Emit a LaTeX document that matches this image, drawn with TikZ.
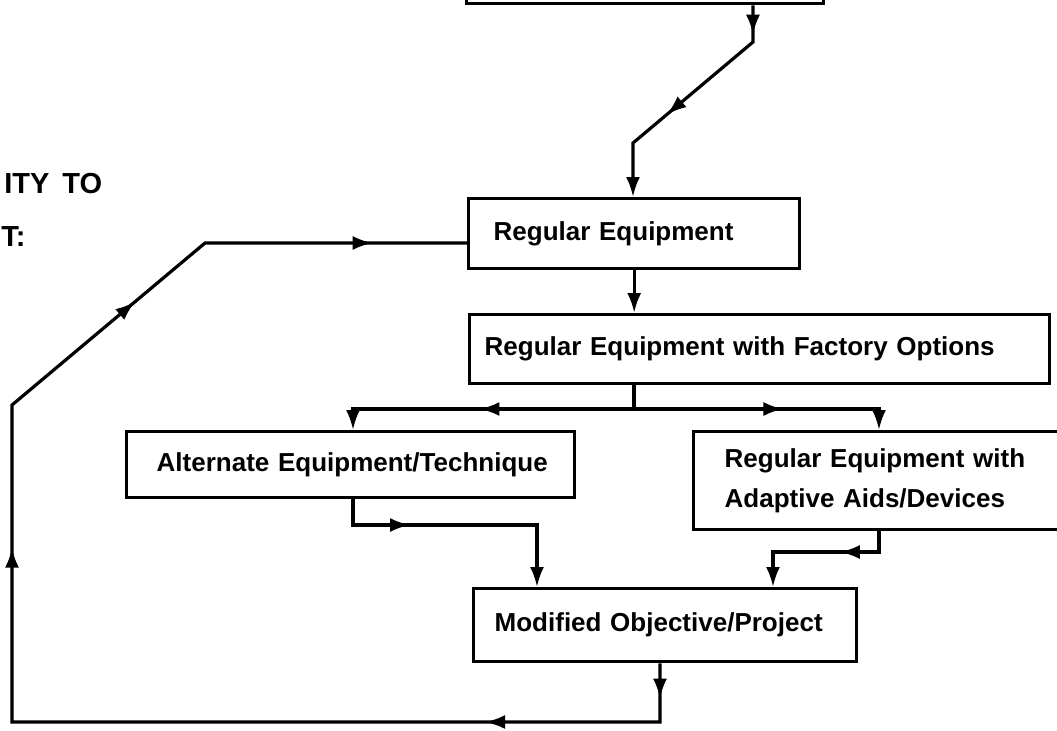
\documentclass[tikz,border=0pt]{standalone}
\usepackage{fontspec}
\setmainfont{Liberation Sans}
\newfontfamily\labelfont[WordSpace=1.6]{Liberation Sans}
\usetikzlibrary{arrows.meta,decorations.markings}

\begin{document}
\begin{tikzpicture}[x=0.5pt, y=-0.5pt,
  box/.style = {draw, line width=1.7pt, anchor=north west, align=left, inner ysep=0pt,
    font=\labelfont\bfseries\fontsize{13}{20}\selectfont},
  side/.style = {inner sep=0pt, font=\labelfont\bfseries\fontsize{14.5}{17}\selectfont},
  wire/.style = {line width=1.6pt},
  into/.style = {wire, -{Latex[length=10pt,width=7pt]}},
  tipat/.style = {line width=1.6pt, postaction={decorate},
    decoration={markings, mark=at position #1 with {\arrow{Latex[length=10pt,width=7pt]}}}}]
\useasboundingbox (0,0) rectangle (1057,730);

% boxes
\node[box, inner xsep=0pt, text width=178.5pt, minimum height=41pt] (source) at (465,-80) {};
\node[box, inner xsep=12.5pt, text width=140.5pt, minimum height=35pt] (regular) at (467,197) {Regular Equipment};
\node[box, inner xsep=7.5pt, text width=275pt, minimum height=34.5pt] (factory) at (468,313) {Regular Equipment with Factory Options};
\node[box, inner xsep=15pt, text width=194pt, minimum height=33pt] (alternate) at (125,430) {\mbox{Alternate Equipment/Technique}};
\node[box, inner xsep=15.5pt, text width=189pt, minimum height=49pt] (adaptive) at (692,430) {Regular Equipment with\\Adaptive Aids/Devices};
\node[box, inner xsep=10.5pt, text width=170.5pt, minimum height=36.5pt] (modified) at (472,587) {Modified Objective/Project};

% cut-off heading
\node[side, anchor=base west] (head1) at (4,193) {ITY TO};
\node[side, anchor=base west] (head2) at (1,246) {T:};

% source -> regular
\coordinate (d1) at (753,42);
\coordinate (d2) at (633,143);
\draw[into] (source.south -| d1) -- (d1) -- (d2) -- (d2 |- regular.north);
\path[tipat=0.8] (source.south -| d1) -- (d1);
\path[tipat=0.72] (d1) -- (d2);

% regular -> factory
\draw[into] (regular.south) -- (regular.south |- factory.north);

% split below factory
\coordinate (split) at (634,409);
\coordinate (lt) at (353,409);
\coordinate (rt) at (879,409);
\draw[wire] (factory.south -| split) -- (split);
\draw[into] (split) -- (lt) -- (lt |- alternate.north);
\path[tipat=0.55] (split) -- (lt);
\draw[into] (split) -- (rt) -- (rt |- adaptive.north);
\path[tipat=0.61] (split) -- (rt);

% alternate -> modified
\coordinate (a1) at (353,525);
\coordinate (a2) at (537,525);
\draw[into] (alternate.south -| a1) -- (a1) -- (a2) -- (a2 |- modified.north);
\path[tipat=0.31] (a1) -- (a2);

% adaptive -> modified
\coordinate (b1) at (879,552);
\coordinate (b2) at (773,552);
\draw[into] (adaptive.south -| b1) -- (b1) -- (b2) -- (b2 |- modified.north);
\path[tipat=0.37] (b1) -- (b2);

% loop back to regular
\coordinate (r1) at (660,722);
\coordinate (r2) at (12,722);
\coordinate (r3) at (12,405);
\coordinate (r4) at (205,243);
\draw[wire] (modified.south -| r1) -- (r1) -- (r2) -- (r3) -- (r4) -- (r4 -| regular.west);
\path[tipat=0.6] (modified.south -| r1) -- (r1);
\path[tipat=0.27] (r1) -- (r2);
\path[tipat=0.55] (r2) -- (r3);
\path[tipat=0.64] (r3) -- (r4);
\path[tipat=0.64] (r4) -- (r4 -| regular.west);
\end{tikzpicture}
\end{document}
